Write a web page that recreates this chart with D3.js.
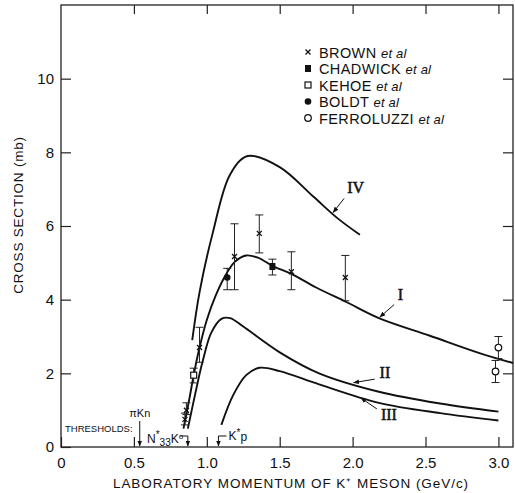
<!DOCTYPE html>
<html>
<head>
<meta charset="utf-8">
<script src="https://cdn.jsdelivr.net/npm/d3@7"></script>
<style>
  body { margin: 0; background: #fff; }
  text { font-family: "Liberation Sans", Arial, sans-serif; fill: #111; }
</style>
</head>
<body>
<div id="chart"></div>
<script>
// Curves: [momentum GeV/c, cross section mb]
const curveI   = [[0.84,0.5],[0.88,1.3],[0.91,1.95],[0.95,2.7],[1.0,3.45],[1.06,4.1],[1.12,4.6],[1.19,5.02],[1.27,5.2],[1.35,5.14],[1.45,4.92],[1.58,4.7],[1.75,4.33],[1.96,3.93],[2.18,3.5],[2.53,3.02],[2.87,2.55],[3.1,2.28]];
const curveII  = [[0.87,0.5],[0.94,1.8],[0.97,2.3],[1.03,3.1],[1.1,3.48],[1.16,3.5],[1.25,3.27],[1.5,2.57],[1.77,2.0],[2.18,1.5],[2.6,1.18],[3.0,0.96]];
const curveIII = [[1.1,0.6],[1.18,1.4],[1.27,1.95],[1.36,2.15],[1.5,2.06],[1.77,1.7],[2.18,1.2],[2.6,0.92],[3.0,0.72]];
const curveIV  = [[0.9,2.9],[0.95,4.2],[1.04,5.8],[1.16,7.4],[1.28,7.9],[1.5,7.6],[1.73,6.8],[1.9,6.2],[2.05,5.76]];

// Data points: [x, y, low, high]
const brown      = [[0.85,0.75,0.6,0.92],[0.86,1.0,0.88,1.2],[0.95,2.7,2.3,3.25],[1.19,5.17,4.27,6.06],[1.36,5.8,5.27,6.3],[1.58,4.76,4.27,5.3],[1.95,4.6,3.97,5.2]];
const chadwick   = [[1.45,4.9,4.67,5.1]];
const kehoe      = [[0.91,1.95,1.74,2.14]];
const boldt      = [[1.14,4.6,4.27,4.85]];
const ferroluzzi = [[3.0,2.7,2.4,3.0],[2.98,2.05,1.75,2.35]];

const legendNames = ["BROWN", "CHADWICK", "KEHOE", "BOLDT", "FERROLUZZI"];
const xTicks = [0, 0.5, 1.0, 1.5, 2.0, 2.5, 3.0];
const yTicks = [0, 2, 4, 6, 8, 10];

const W = 515, H = 493;
const margin = {left: 61, top: 5, right: 2, bottom: 46};
const width = W - margin.left - margin.right;
const height = H - margin.top - margin.bottom;

const svg = d3.select("#chart").append("svg")
  .attr("width", W).attr("height", H);

// arrowhead
svg.append("defs").append("marker")
  .attr("id", "arr").attr("viewBox", "0 0 10 10")
  .attr("refX", 9).attr("refY", 5)
  .attr("markerWidth", 6).attr("markerHeight", 6)
  .attr("orient", "auto")
  .append("path").attr("d", "M0,1 L10,5 L0,9 Z").attr("fill", "#111");

const g = svg.append("g")
  .attr("transform", "translate(" + margin.left + "," + margin.top + ")");

let x = d3.scaleLinear().domain([0, 3.1]).range([0, width]);
let y = d3.scaleLinear().domain([0, 12]).range([height, 0]);

// Frame
g.append("rect").attr("width", width).attr("height", height)
  .attr("fill", "none").attr("stroke", "#222").attr("stroke-width", 1.3);

// Axes with inward ticks
g.append("g").attr("transform", "translate(0," + height + ")")
  .call(d3.axisBottom(x).tickValues(xTicks).tickSizeInner(-10).tickSizeOuter(0).tickPadding(10)
    .tickFormat(d => d === 0 ? "0" : d3.format(".1f")(d)))
  .call(a => a.select(".domain").remove());
g.append("g")
  .call(d3.axisTop(x).tickValues(xTicks.slice(1)).tickSizeInner(-9).tickSizeOuter(0).tickFormat(""))
  .call(a => a.select(".domain").remove());
g.append("g")
  .call(d3.axisLeft(y).tickValues(yTicks).tickSizeInner(-10).tickSizeOuter(0).tickPadding(7)
    .tickFormat(d3.format("d")))
  .call(a => a.select(".domain").remove());
g.append("g").attr("transform", "translate(" + width + ",0)")
  .call(d3.axisRight(y).tickValues(yTicks.slice(1)).tickSizeInner(-10).tickSizeOuter(0).tickFormat(""))
  .call(a => a.select(".domain").remove());

g.selectAll(".tick line").attr("stroke", "#222").attr("stroke-width", 1.2);
g.selectAll(".tick text").style("font-size", "15px").style("font-family", "Liberation Sans, Arial, sans-serif").attr("fill", "#111");

// Curves
let line = d3.line()
  .x(d => x(d[0])).y(d => y(d[1]))
  .curve(d3.curveCatmullRom.alpha(0.5));

[curveI, curveII, curveIII, curveIV].forEach(c => {
  g.append("path").datum(c).attr("d", line)
    .attr("fill", "none").attr("stroke", "#111").attr("stroke-width", 1.9);
});

// Error bars
function errorBars(data) {
  data.forEach(d => {
    const px = x(d[0]);
    g.append("line").attr("x1", px).attr("x2", px).attr("y1", y(d[2])).attr("y2", y(d[3]))
      .attr("stroke", "#222").attr("stroke-width", 1);
    [d[2], d[3]].forEach(v => {
      g.append("line").attr("x1", px - 4).attr("x2", px + 4).attr("y1", y(v)).attr("y2", y(v))
        .attr("stroke", "#222").attr("stroke-width", 1);
    });
  });
}
[brown, chadwick, kehoe, boldt, ferroluzzi].forEach(errorBars);

// Markers
function drawMarker(sel, type) {
  if (type === "cross") {
    sel.append("path").attr("d", "M-2.5,-2.5L2.5,2.5M-2.5,2.5L2.5,-2.5")
      .attr("stroke", "#111").attr("stroke-width", 1.3);
  } else if (type === "fsquare") {
    sel.append("rect").attr("x", -3).attr("y", -3.5).attr("width", 6).attr("height", 7).attr("fill", "#111");
  } else if (type === "osquare") {
    sel.append("rect").attr("x", -3).attr("y", -3).attr("width", 6).attr("height", 6)
      .attr("fill", "#fff").attr("stroke", "#111").attr("stroke-width", 1.2);
  } else if (type === "fcircle") {
    sel.append("circle").attr("r", 3.3).attr("fill", "#111");
  } else {
    sel.append("circle").attr("r", 3.3).attr("fill", "#fff").attr("stroke", "#111").attr("stroke-width", 1.2);
  }
}
const series = [[brown, "cross"], [chadwick, "fsquare"], [kehoe, "osquare"], [boldt, "fcircle"], [ferroluzzi, "ocircle"]];
series.forEach(s => {
  s[0].forEach(d => {
    const m = g.append("g").attr("transform", "translate(" + x(d[0]) + "," + y(d[1]) + ")");
    drawMarker(m, s[1]);
  });
});

// Legend
const legend = g.append("g").attr("transform", "translate(247,47)");
legendNames.forEach((name, i) => {
  const row = legend.append("g").attr("transform", "translate(0," + (i * 16.5) + ")");
  drawMarker(row, series[i][1]);
  const t = row.append("text").attr("x", 11).attr("y", 5.5)
    .style("font-size", "14.5px").style("letter-spacing", "0.4px");
  t.append("tspan").text(name + " ");
  t.append("tspan").style("font-style", "italic").style("font-size", "13px").style("letter-spacing", "0.2px").text("et al");
});

// Curve labels with arrows: [label, curve, x at arrow tip, dx, dy]
const curveLabels = [["IV", curveIV, 1.86, 14, -20], ["I", curveI, 2.18, 18, -18], ["II", curveII, 2.0, 26, -6], ["III", curveIII, 2.05, 20, 16]];
curveLabels.forEach(l => {
  const c = l[1];
  const yv = d3.scaleLinear().domain(c.map(d => d[0])).range(c.map(d => d[1]))(l[2]);
  const tx = x(l[2]), ty = y(yv);
  g.append("line").attr("x1", tx + l[3] * 0.85).attr("y1", ty + l[4] * 0.75)
    .attr("x2", tx + 1).attr("y2", ty + (l[4] < 0 ? -1 : 1))
    .attr("stroke", "#111").attr("stroke-width", 1).attr("marker-end", "url(#arr)");
  g.append("text").attr("x", tx + l[3] + 1).attr("y", ty + l[4] + (l[4] < 0 ? 0 : 7))
    .style("font-family", "Liberation Serif, serif").style("font-size", "16px")
    .style("stroke", "#111").style("stroke-width", 0.5).text(l[0]);
});

// Thresholds
const thr = g.append("g").style("font-size", "9.5px");
thr.append("text").attr("x", 4).attr("y", height - 15).text("THRESHOLDS:");
thr.append("text").attr("x", x(0.54)).attr("y", height - 30).attr("text-anchor", "middle")
  .style("font-size", "11px").text("\u03c0Kn");
thr.append("line").attr("x1", x(0.54)).attr("x2", x(0.54)).attr("y1", height - 26).attr("y2", height - 1)
  .attr("stroke", "#111").attr("marker-end", "url(#arr)");
const nt = thr.append("text").attr("x", x(0.59)).attr("y", height - 4).style("font-size", "12px");
nt.append("tspan").text("N");
nt.append("tspan").attr("dy", -5).style("font-size", "10px").text("*");
nt.append("tspan").attr("dy", 8).style("font-size", "10px").text("33");
nt.append("tspan").attr("dy", -3).text("K");
nt.append("tspan").attr("dy", -4).style("font-size", "8px").text("o");
thr.append("path").attr("d", "M" + (x(0.87) - 8) + "," + (height - 11) + "H" + x(0.87) + "V" + (height - 1))
  .attr("fill", "none").attr("stroke", "#111").attr("marker-end", "url(#arr)");
thr.append("path").attr("d", "M" + (x(1.08) + 8) + "," + (height - 11) + "H" + x(1.08) + "V" + (height - 1))
  .attr("fill", "none").attr("stroke", "#111").attr("marker-end", "url(#arr)");
const kt = thr.append("text").attr("x", x(1.08) + 10).attr("y", height - 7).style("font-size", "12px");
kt.append("tspan").text("K");
kt.append("tspan").attr("dy", -4).style("font-size", "10px").text("*");
kt.append("tspan").attr("dy", 5).text("p");

// Axis titles
g.append("text")
  .attr("transform", "translate(" + (width / 2 + 4) + "," + (height + 41) + ")")
  .style("text-anchor", "middle").style("font-size", "13.5px").style("letter-spacing", "0.95px")
  .text("LABORATORY MOMENTUM OF K\u207a MESON (GeV/c)");

g.append("text")
  .attr("transform", "rotate(-90)")
  .attr("y", -38).attr("x", -210)
  .style("text-anchor", "middle").style("font-size", "13.5px").style("letter-spacing", "0.8px")
  .text("CROSS SECTION (mb)");
</script>
</body>
</html>
